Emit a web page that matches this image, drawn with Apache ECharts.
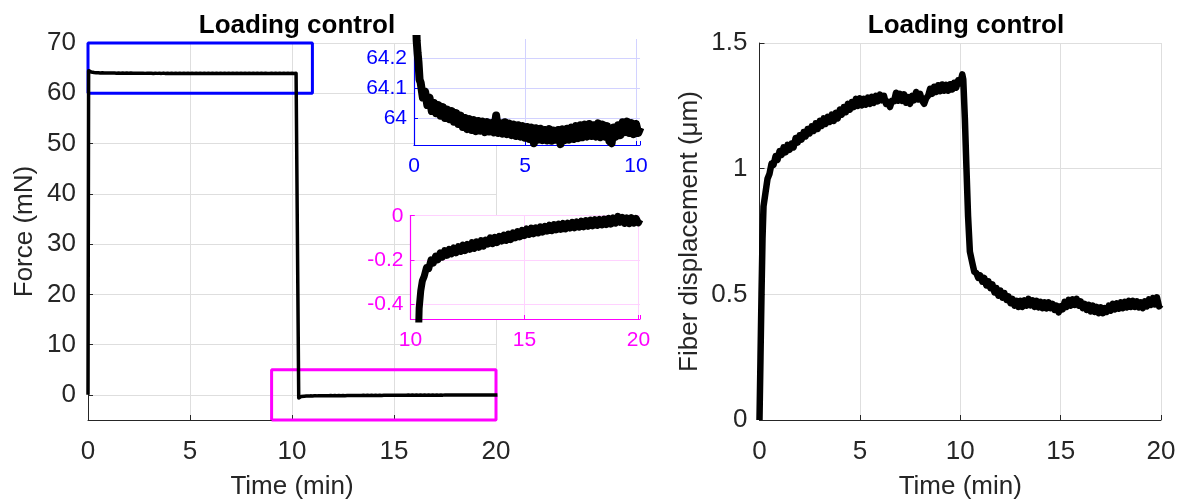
<!DOCTYPE html>
<html><head><meta charset="utf-8">
<script src="https://cdn.jsdelivr.net/npm/echarts@6/dist/echarts.min.js"></script>
<style>html,body{margin:0;padding:0;background:#fff}#c{width:1181px;height:504px}</style>
</head><body><div id="c"></div>
<script>
// ---------------- data ----------------
const TITLE = 'Loading control';
const X_NAME = 'Time (min)';
const FORCE_NAME = 'Force (mN)';
const DISP_NAME = 'Fiber displacement (\u03bcm)';

const MAIN_X_TICKS = [0, 5, 10, 15, 20];
const FORCE_Y_TICKS = [0, 10, 20, 30, 40, 50, 60, 70];
const DISP_Y_TICKS = [0, 0.5, 1, 1.5];
const INSET1_X_TICKS = [0, 5, 10];
const INSET1_Y_TICKS = [64, 64.1, 64.2];
const INSET2_X_TICKS = [10, 15, 20];
const INSET2_Y_TICKS = [-0.4, -0.2, 0];

const BLUE_BOX_X = [0, 11];
const BLUE_BOX_Y = [60, 70];
const MAGENTA_BOX_X = [9, 20];
const MAGENTA_BOX_Y = [-5, 5];

// time windows shown in the two insets
const INSET1_T_RANGE = [0.03, 10.2];
const INSET2_T_RANGE = [10.33, 20.07];

const FORCE_T = [0, 0.03, 0.12, 0.16, 0.2, 0.25,
 0.3,0.4,0.5,0.6,0.7,0.8,0.9,1.0,1.1,1.2,1.3,1.4,1.5,1.6,1.7,1.8,1.9,2.0,
 2.1,2.2,2.3,2.4,2.5,2.6,2.7,2.8,2.9,3.0,3.1,3.2,3.3,3.4,3.5,3.6,3.7,3.8,3.9,4.0,
 4.1,4.2,4.3,4.4,4.5,4.6,4.7,4.8,4.9,5.0,5.1,5.2,5.3,5.4,5.5,5.6,5.7,5.8,5.9,6.0,
 6.1,6.2,6.3,6.4,6.5,6.6,6.7,6.8,6.9,7.0,7.1,7.2,7.3,7.4,7.5,7.6,7.7,7.8,7.9,8.0,
 8.1,8.2,8.3,8.4,8.5,8.6,8.7,8.8,8.9,9.0,9.1,9.2,9.3,9.4,9.5,9.6,9.7,9.8,9.9,10.0,
 10.1,10.2,
 10.33,10.38,10.45,10.52,
 10.6,10.7,10.8,10.9,11.0,11.1,11.2,11.3,11.4,11.5,11.6,11.7,11.8,11.9,12.0,
 12.1,12.2,12.3,12.4,12.5,12.6,12.7,12.8,12.9,13.0,13.1,13.2,13.3,13.4,13.5,13.6,13.7,13.8,13.9,14.0,
 14.1,14.2,14.3,14.4,14.5,14.6,14.7,14.8,14.9,15.0,15.1,15.2,15.3,15.4,15.5,15.6,15.7,15.8,15.9,16.0,
 16.1,16.2,16.3,16.4,16.5,16.6,16.7,16.8,16.9,17.0,17.1,17.2,17.3,17.4,17.5,17.6,17.7,17.8,17.9,18.0,
 18.1,18.2,18.3,18.4,18.5,18.6,18.7,18.8,18.9,19.0,19.1,19.2,19.3,19.4,19.5,19.6,19.7,19.8,19.9,20.0,20.07];

const FORCE = [0, 64.5, 64.26, 64.22, 64.19, 64.13,
 64.12,64.07,64.09,64.045,64.07,64.025,64.052,64.018,64.045,64.01,64.038,64.002,64.03,63.998,64.025,63.99,64.018,63.982,
 64.01,63.972,64.002,63.965,63.998,63.962,63.995,63.958,63.992,63.96,63.99,63.955,63.988,63.957,63.985,63.954,64.01,63.952,63.985,63.95,
 63.988,63.948,63.983,63.945,63.98,63.942,63.978,63.94,63.975,63.936,63.972,63.932,63.97,63.918,63.968,63.93,63.966,63.928,63.962,63.927,
 63.965,63.926,63.96,63.93,63.962,63.915,63.964,63.928,63.966,63.93,63.97,63.932,63.975,63.935,63.978,63.938,63.98,63.94,63.982,63.942,
 63.978,63.94,63.984,63.938,63.98,63.94,63.975,63.925,63.918,63.97,63.94,63.978,63.945,63.988,63.955,63.99,63.952,63.985,63.948,63.982,
 63.952,63.97,
 -0.62,-0.42,-0.34,-0.295,
 -0.275,-0.235,-0.24,-0.2,-0.215,-0.183,-0.2,-0.168,-0.188,-0.158,-0.18,-0.152,-0.173,-0.146,-0.168,
 -0.14,-0.162,-0.133,-0.158,-0.13,-0.152,-0.122,-0.148,-0.118,-0.143,-0.113,-0.138,-0.11,-0.128,-0.1,-0.127,-0.098,-0.122,-0.093,-0.115,
 -0.088,-0.112,-0.083,-0.108,-0.078,-0.1,-0.072,-0.096,-0.066,-0.09,-0.06,-0.085,-0.056,-0.082,-0.055,-0.078,-0.05,-0.074,-0.048,-0.07,
 -0.043,-0.068,-0.04,-0.064,-0.038,-0.062,-0.035,-0.06,-0.034,-0.056,-0.03,-0.055,-0.028,-0.052,-0.025,-0.05,-0.022,-0.048,-0.02,-0.046,
 -0.018,-0.044,-0.017,-0.042,-0.015,-0.04,-0.012,-0.038,-0.01,-0.034,-0.003,-0.03,-0.008,-0.035,-0.01,-0.036,-0.009,-0.034,-0.012,-0.032,-0.018];

const DISP_T = [0, 0.05, 0.1, 0.15, 0.2,
 0.3,0.4,0.5,0.6,0.7,0.8,0.9,1.0,1.1,1.2,1.3,1.4,1.5,1.6,1.7,1.8,1.9,2.0,
 2.1,2.2,2.3,2.4,2.5,2.6,2.7,2.8,2.9,3.0,3.1,3.2,3.3,3.4,3.5,3.6,3.7,3.8,3.9,4.0,
 4.1,4.2,4.3,4.4,4.5,4.6,4.7,4.8,4.9,5.0,5.1,5.2,5.3,5.4,5.5,5.6,5.7,5.8,5.9,6.0,
 6.1,6.2,6.3,6.4,6.5,6.6,6.7,6.8,6.9,7.0,7.1,7.2,7.3,7.4,7.5,7.6,7.7,7.8,7.9,8.0,
 8.1,8.2,8.3,8.4,8.5,8.6,8.7,8.8,8.9,9.0,9.1,9.2,9.3,9.4,9.5,9.6,9.7,9.8,9.9,10.0,
 10.1,10.15,10.23,10.31,10.39,10.48,
 10.6,10.7,10.8,10.9,11.0,11.1,11.2,11.3,11.4,11.5,11.6,11.7,11.8,11.9,12.0,
 12.1,12.2,12.3,12.4,12.5,12.6,12.7,12.8,12.9,13.0,13.1,13.2,13.3,13.4,13.5,13.6,13.7,13.8,13.9,14.0,
 14.1,14.2,14.3,14.4,14.5,14.6,14.7,14.8,14.9,15.0,15.1,15.2,15.3,15.4,15.5,15.6,15.7,15.8,15.9,16.0,
 16.1,16.2,16.3,16.4,16.5,16.6,16.7,16.8,16.9,17.0,17.1,17.2,17.3,17.4,17.5,17.6,17.7,17.8,17.9,18.0,
 18.1,18.2,18.3,18.4,18.5,18.6,18.7,18.8,18.9,19.0,19.1,19.2,19.3,19.4,19.5,19.6,19.7,19.8,19.9,20.0];

const DISP = [0, 0.25, 0.5, 0.72, 0.85,
 0.905,0.96,0.98,1.02,1.015,1.05,1.035,1.07,1.055,1.085,1.065,1.095,1.075,1.1,1.085,1.122,1.104,1.133,
 1.116,1.146,1.128,1.158,1.14,1.168,1.15,1.18,1.158,1.19,1.17,1.2,1.178,1.206,1.186,1.215,1.19,1.222,1.2,1.235,
 1.215,1.245,1.225,1.258,1.235,1.265,1.245,1.278,1.25,1.28,1.252,1.278,1.255,1.283,1.258,1.286,1.262,1.29,1.268,1.295,
 1.272,1.29,1.258,1.265,1.245,1.27,1.268,1.302,1.27,1.298,1.27,1.296,1.262,1.285,1.258,1.29,1.272,1.305,1.275,1.298,
 1.27,1.258,1.28,1.29,1.318,1.298,1.326,1.305,1.332,1.308,1.335,1.31,1.334,1.31,1.336,1.315,1.342,1.322,1.352,1.34,
 1.375,1.355,1.2,1.0,0.81,0.67,
 0.625,0.59,0.585,0.565,0.575,0.55,0.565,0.535,0.552,0.525,0.54,0.508,0.525,0.495,0.515,
 0.487,0.505,0.478,0.492,0.465,0.482,0.455,0.474,0.45,0.474,0.45,0.476,0.455,0.482,0.456,0.476,0.45,0.474,0.448,0.47,
 0.445,0.468,0.444,0.468,0.445,0.462,0.438,0.455,0.428,0.452,0.44,0.47,0.45,0.478,0.455,0.48,0.458,0.482,0.455,0.472,
 0.445,0.462,0.438,0.458,0.432,0.455,0.43,0.45,0.425,0.448,0.425,0.445,0.43,0.455,0.435,0.462,0.44,0.464,0.443,0.468,
 0.445,0.47,0.448,0.474,0.45,0.474,0.45,0.472,0.448,0.468,0.445,0.472,0.452,0.48,0.458,0.485,0.46,0.488,0.452,0.46];

// ---------------- helpers ----------------
const pairs = (xs, ys) => xs.map((x, i) => [x, ys[i]]);
const inWindow = (xs, ys, r) => pairs(xs, ys).filter(p => p[0] >= r[0] - 1e-9 && p[0] <= r[1] + 1e-9);
const boxPath = (bx, by) => [[bx[0], by[0]], [bx[1], by[0]], [bx[1], by[1]], [bx[0], by[1]], [bx[0], by[0]]];
const fmt = ticks => v => { const m = ticks.find(t => Math.abs(t - v) < 1e-6); return m === undefined ? '' : String(m); };

const FONT = 'Liberation Sans, Arial, Helvetica, sans-serif';
const TXT = '#262626';
const GRIDC = '#dedede';
const FS = 26;
const IFS = 21;

function mainAxis(grid, o) {
  return Object.assign({
    type: 'value', gridIndex: grid, z: 0,
    axisLine: { show: true, onZero: false, lineStyle: { color: TXT, width: 1 } },
    axisTick: { show: true, inside: true, length: 5, lineStyle: { color: TXT } },
    splitLine: { show: true, lineStyle: { color: GRIDC, width: 1 } },
    nameTextStyle: { color: TXT, fontSize: FS, fontFamily: FONT },
    nameLocation: 'middle', nameMoveOverlap: false
  }, o);
}
function insetAxis(grid, col, o) {
  return Object.assign({
    type: 'value', gridIndex: grid, z: 3,
    axisLine: { show: true, onZero: false, lineStyle: { color: col, width: 1.2 } },
    axisTick: { show: true, inside: true, length: 4, lineStyle: { color: col } }
  }, o);
}

const chart = echarts.init(document.getElementById('c'), null, { renderer: 'canvas' });
chart.setOption({
  animation: false,
  backgroundColor: '#ffffff',
  title: [
    { text: TITLE, left: 292, top: 8, textAlign: 'center', textStyle: { fontSize: FS, fontWeight: 'bold', color: '#000', fontFamily: FONT } },
    { text: TITLE, left: 961, top: 8, textAlign: 'center', textStyle: { fontSize: FS, fontWeight: 'bold', color: '#000', fontFamily: FONT } }
  ],
  grid: [
    { left: 88, top: 43, width: 408, height: 377, outerBoundsMode: 'none', containLabel: false, z: 0 },
    { left: 414, top: 39, width: 226, height: 106, outerBoundsMode: 'none', containLabel: false, show: true, backgroundColor: '#fff', borderWidth: 0, z: 2 },
    { left: 410.5, top: 215.5, width: 229.5, height: 103.5, outerBoundsMode: 'none', containLabel: false, show: true, backgroundColor: '#fff', borderWidth: 0, z: 2 },
    { left: 759.5, top: 43, width: 401.5, height: 377, outerBoundsMode: 'none', containLabel: false, z: 0 }
  ],
  xAxis: [
    mainAxis(0, { min: 0, max: 20, interval: 5, name: X_NAME, nameGap: 54,
      axisLabel: { color: TXT, fontSize: FS, fontFamily: FONT, margin: 19, formatter: fmt(MAIN_X_TICKS) } }),
    insetAxis(1, '#0000ff', { min: 0, max: 10.18, interval: 5,
      splitLine: { show: true, showMaxLine: false, lineStyle: { color: '#d2d2ff', width: 1 } },
      axisLabel: { color: '#0000ff', fontSize: IFS, fontFamily: FONT, margin: 11, formatter: fmt(INSET1_X_TICKS) } }),
    insetAxis(2, '#ff00ff', { min: 10, max: 20.07, interval: 5,
      splitLine: { show: true, showMaxLine: false, lineStyle: { color: '#ffd2ff', width: 1 } },
      axisLabel: { color: '#ff00ff', fontSize: IFS, fontFamily: FONT, margin: 11, formatter: fmt(INSET2_X_TICKS) } }),
    mainAxis(3, { min: 0, max: 20, interval: 5, name: X_NAME, nameGap: 54,
      axisLabel: { color: TXT, fontSize: FS, fontFamily: FONT, margin: 19, formatter: fmt(MAIN_X_TICKS) } })
  ],
  yAxis: [
    mainAxis(0, { min: -5, max: 70, splitNumber: 7, name: FORCE_NAME, nameGap: 50,
      splitLine: { show: true, showMinLine: false, lineStyle: { color: GRIDC, width: 1 } },
      axisLabel: { color: TXT, fontSize: FS, fontFamily: FONT, margin: 12, formatter: fmt(FORCE_Y_TICKS) } }),
    insetAxis(1, '#0000ff', { min: 63.912, max: 64.265, splitNumber: 4,
      splitLine: { show: true, showMinLine: false, showMaxLine: false, lineStyle: { color: '#d2d2ff', width: 1 } },
      axisLabel: { color: '#0000ff', fontSize: IFS, fontFamily: FONT, margin: 7, formatter: fmt(INSET1_Y_TICKS) } }),
    insetAxis(2, '#ff00ff', { min: -0.468, max: 0.001, splitNumber: 3,
      splitLine: { show: true, showMinLine: false, showMaxLine: false, lineStyle: { color: '#ffd2ff', width: 1 } },
      axisLabel: { color: '#ff00ff', fontSize: IFS, fontFamily: FONT, margin: 7, formatter: fmt(INSET2_Y_TICKS) } }),
    mainAxis(3, { min: 0, max: 1.5, interval: 0.5, name: DISP_NAME, nameGap: 57,
      axisLabel: { color: TXT, fontSize: FS, fontFamily: FONT, margin: 12, formatter: fmt(DISP_Y_TICKS) } })
  ],
  series: [
    { type: 'line', xAxisIndex: 0, yAxisIndex: 0, data: boxPath(BLUE_BOX_X, BLUE_BOX_Y), showSymbol: false, clip: false, z: 2,
      lineStyle: { color: '#0000ff', width: 3 }, silent: true },
    { type: 'line', xAxisIndex: 0, yAxisIndex: 0, data: boxPath(MAGENTA_BOX_X, MAGENTA_BOX_Y), showSymbol: false, clip: false, z: 2,
      lineStyle: { color: '#ff00ff', width: 3 }, silent: true },
    { type: 'line', xAxisIndex: 0, yAxisIndex: 0, data: pairs(FORCE_T, FORCE), showSymbol: false, z: 3,
      lineStyle: { color: '#000', width: 3.5, join: 'round' }, silent: true },
    { type: 'line', xAxisIndex: 1, yAxisIndex: 1, data: inWindow(FORCE_T, FORCE, INSET1_T_RANGE), showSymbol: false, z: 4,
      lineStyle: { color: '#000', width: 8, join: 'round' }, silent: true },
    { type: 'line', xAxisIndex: 2, yAxisIndex: 2, data: inWindow(FORCE_T, FORCE, INSET2_T_RANGE), showSymbol: false, z: 4,
      lineStyle: { color: '#000', width: 7, join: 'round' }, silent: true },
    { type: 'line', xAxisIndex: 3, yAxisIndex: 3, data: pairs(DISP_T, DISP), showSymbol: false, z: 3,
      lineStyle: { color: '#000', width: 6.5, join: 'round' }, silent: true }
  ]
});
</script>
</body></html>
